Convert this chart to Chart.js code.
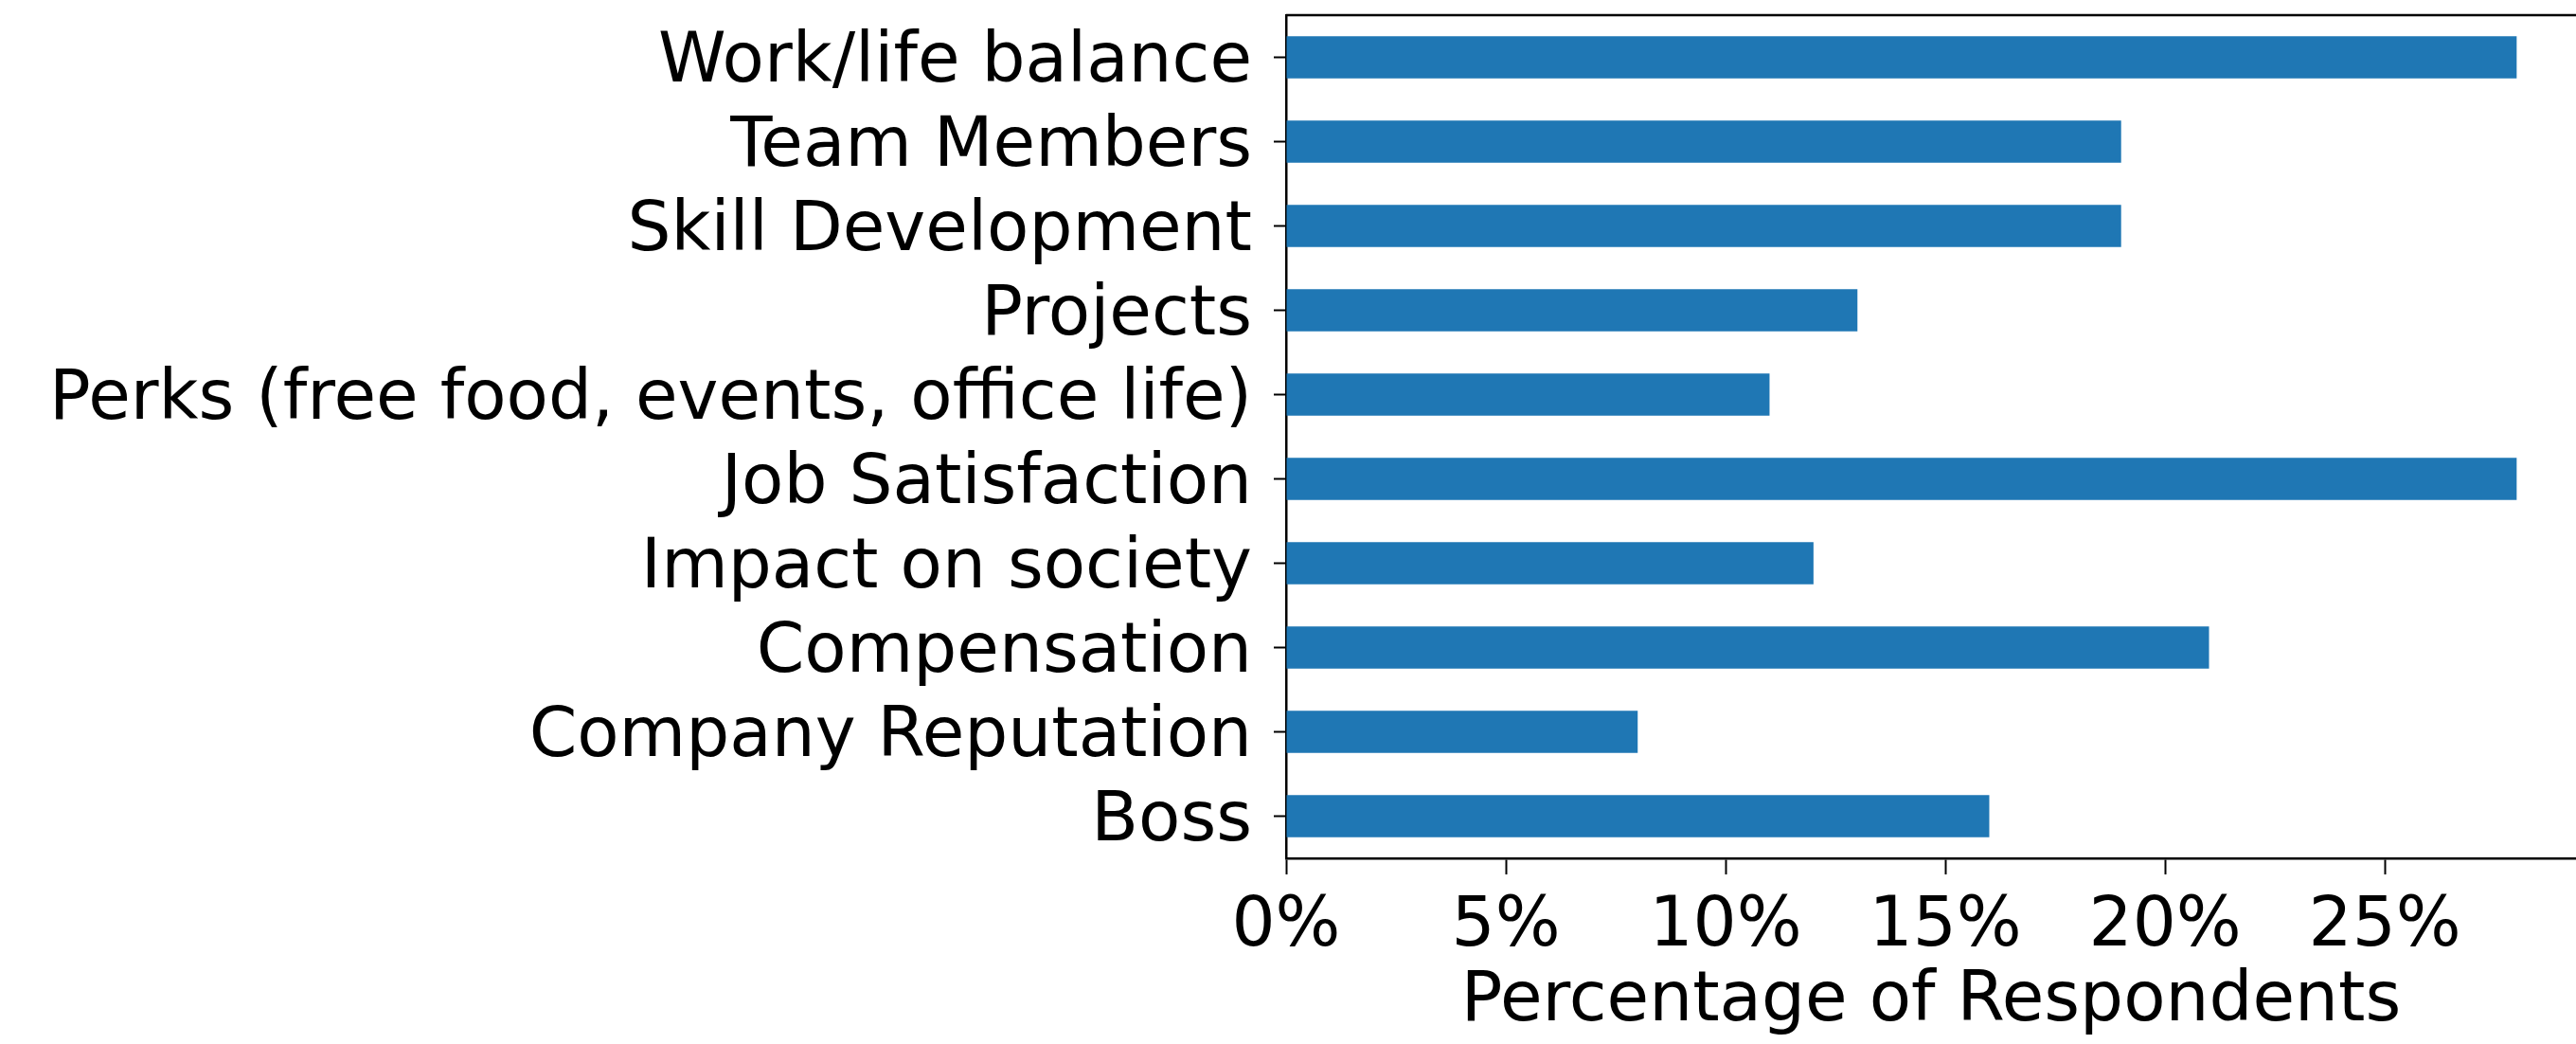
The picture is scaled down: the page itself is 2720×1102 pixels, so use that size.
<!DOCTYPE html>
<html>
<head>
<meta charset="utf-8">
<script src="https://cdn.jsdelivr.net/npm/chart.js@4/dist/chart.umd.min.js"></script>
<style>
  html, body { margin: 0; padding: 0; background: #fff; overflow: hidden; }
  #wrap { width: 2720px; height: 1102px; }
</style>
</head>
<body>
<div id="wrap"><canvas id="c" width="2720" height="1102"></canvas></div>
<script>
// Share of respondents naming each factor (percent), top row first
const categories = [
  'Work/life balance',
  'Team Members',
  'Skill Development',
  'Projects',
  'Perks (free food, events, office life)',
  'Job Satisfaction',
  'Impact on society',
  'Compensation',
  'Company Reputation',
  'Boss'
];
const percentages = [28, 19, 19, 13, 11, 28, 12, 21, 8, 16];
const xTickStep = 5;
const xAxisTitle = 'Percentage of Respondents';

const FONT = "'DejaVu Sans', 'Liberation Sans', sans-serif";
const FONT_SIZE = 72.5;

// Top spine of the plotting frame
const frameTop = {
  id: 'frameTop',
  afterDraw(chart) {
    const { ctx, chartArea } = chart;
    ctx.save();
    ctx.strokeStyle = '#000';
    ctx.lineWidth = 2.5;
    ctx.beginPath();
    ctx.moveTo(chartArea.left, chartArea.top);
    ctx.lineTo(chartArea.right + 2, chartArea.top);
    ctx.stroke();
    ctx.restore();
  }
};

new Chart(document.getElementById('c'), {
  type: 'bar',
  data: {
    labels: categories,
    datasets: [{
      data: percentages,
      backgroundColor: '#1f77b4',
      borderWidth: 0,
      barPercentage: 0.5,
      categoryPercentage: 1.0
    }]
  },
  plugins: [frameTop],
  options: {
    indexAxis: 'y',
    responsive: false,
    devicePixelRatio: 1,
    animation: false,
    layout: { padding: { top: 16, right: 0, bottom: 0, left: 0 } },
    plugins: {
      legend: { display: false },
      tooltip: { enabled: false },
      title: { display: false }
    },
    scales: {
      x: {
        type: 'linear',
        position: 'bottom',
        min: 0,
        max: 29.35,
        afterFit(scale) {
          scale.height = 196;
          scale.paddingLeft = 0;
          scale.paddingRight = 0;
        },
        border: { display: true, color: '#000', width: 2.5 },
        grid: {
          display: true,
          drawOnChartArea: false,
          drawTicks: true,
          tickLength: 17,
          tickColor: '#000',
          tickWidth: 2
        },
        ticks: {
          stepSize: xTickStep,
          includeBounds: false,
          color: '#000',
          padding: 13,
          maxRotation: 0,
          font: { family: FONT, size: FONT_SIZE },
          callback: (v) => v + '%'
        },
        title: {
          display: true,
          text: xAxisTitle,
          color: '#000',
          padding: { top: 0, bottom: 0 },
          font: { family: FONT, size: FONT_SIZE, lineHeight: 1.2 }
        }
      },
      y: {
        type: 'category',
        position: 'left',
        offset: true,
        afterFit(scale) {
          scale.width = 1358;
          scale.paddingTop = 0;
          scale.paddingBottom = 0;
        },
        border: { display: true, color: '#000', width: 2.5 },
        grid: {
          display: true,
          offset: false,
          drawOnChartArea: false,
          drawTicks: true,
          tickLength: 13,
          tickColor: '#000',
          tickWidth: 2
        },
        ticks: {
          color: '#000',
          padding: 23,
          labelOffset: 7,
          autoSkip: false,
          font: { family: FONT, size: FONT_SIZE }
        }
      }
    }
  }
});
</script>
</body>
</html>
